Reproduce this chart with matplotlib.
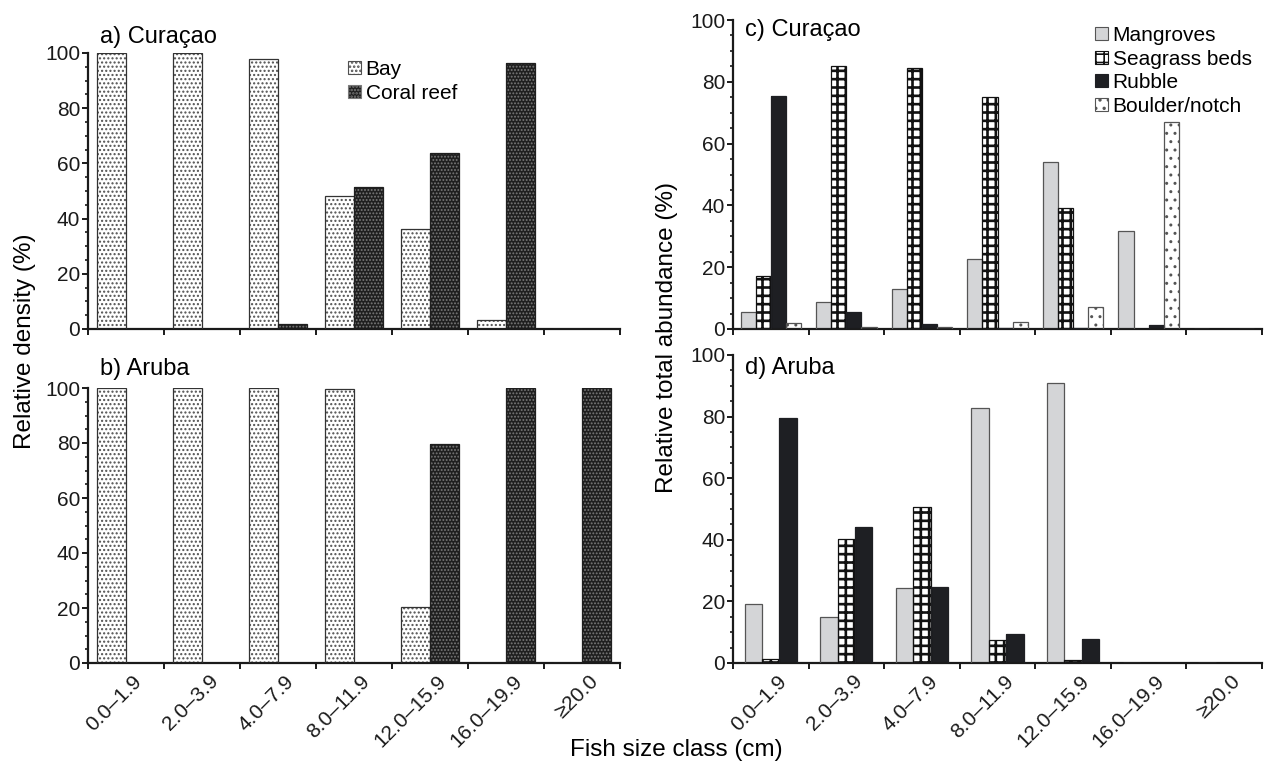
import numpy as np
import matplotlib
matplotlib.use("Agg")
import matplotlib.pyplot as plt
import matplotlib.patches as mpatches
from matplotlib.ticker import MultipleLocator, FixedLocator
from matplotlib.transforms import ScaledTranslation

plt.rcParams["font.family"] = ["Liberation Sans", "DejaVu Sans"]
plt.rcParams["hatch.linewidth"] = 1.2

W, H = 1264, 762

SIZE_CLASSES = ["0.0–1.9", "2.0–3.9", "4.0–7.9", "8.0–11.9",
                "12.0–15.9", "16.0–19.9", "≥20.0"]

# a) / b) relative density (%)
CUR_BAY   = [100, 100, 98, 48.3, 36.3, 3.4, 0]
CUR_CORAL = [0, 0, 1.9, 51.5, 63.6, 96.5, 0]
ARU_BAY   = [100, 100, 100, 99.5, 20.5, 0, 0]
ARU_CORAL = [0, 0, 0, 0, 79.5, 100, 100]

# c) / d) relative total abundance (%)
CUR_MANG = [5.4, 8.6, 13.0, 22.6, 54.0, 31.6, 0]
CUR_SEAG = [17.2, 85.0, 84.5, 75.0, 39.0, 0, 0]
CUR_RUBB = [75.5, 5.4, 1.5, 0.2, 0.3, 1.3, 0]
CUR_BOUL = [1.8, 0.8, 0.8, 2.4, 7.0, 67.0, 0]
ARU_MANG = [19.2, 15.0, 24.4, 82.7, 91.0, 0, 0]
ARU_SEAG = [1.2, 40.2, 50.8, 7.4, 1.0, 0, 0]
ARU_RUBB = [79.5, 44.2, 24.8, 9.5, 7.8, 0, 0]

# face, hatch, hatch colour, outline colour, hatch linewidth
STYLE = {
    "Bay":           ("white",   "....",  "#505050", "#333333", 1.0),
    "Coral reef":    ("#1f1f1f", ".....", "#7a7a7a", "#1f1f1f", 0.9),
    "Mangroves":     ("#d4d5d7", None,    "#555555", "#555555", 1.0),
    "Seagrass beds": ("white",   "++",    "#111111", "#111111", 1.9),
    "Rubble":        ("#1e1f23", None,    "#1e1f23", "#1e1f23", 1.0),
    "Boulder/notch": ("white",   "..",    "#555555", "#555555", 1.0),
}


def fx(px):
    return px / W


def fy(py):
    return 1 - py / H


def draw_bars(ax, x, vals, width, name):
    face, hatch, hcol, edge, hlw = STYLE[name]
    bars = ax.bar(x, vals, width, align="edge", color=face, edgecolor=hcol,
                  linewidth=0, hatch=hatch, zorder=2)
    for p in bars:
        if hasattr(p, "set_hatch_linewidth"):
            p.set_hatch_linewidth(hlw)
    ax.bar(x, vals, width, align="edge", fill=False, edgecolor=edge,
           linewidth=0.9, zorder=3)


def proxy(name):
    face, hatch, hcol, edge, hlw = STYLE[name]
    p = mpatches.Patch(facecolor=face, edgecolor=hcol if hatch else edge,
                       hatch=hatch, linewidth=0.8, label=name)
    if hasattr(p, "set_hatch_linewidth"):
        p.set_hatch_linewidth(hlw)
    return p


def style_axis(ax, show_labels):
    n = len(SIZE_CLASSES)
    ax.set_xlim(0, n)
    ax.set_ylim(0, 100)
    for s in ["top", "right"]:
        ax.spines[s].set_visible(False)
    for s in ["left", "bottom"]:
        ax.spines[s].set_linewidth(1.6)
        ax.spines[s].set_color("#1a1a1a")
    ax.yaxis.set_major_locator(MultipleLocator(20))
    ax.yaxis.set_minor_locator(MultipleLocator(5))
    ax.tick_params(axis="y", which="major", direction="out", length=4.5,
                   width=1.4, labelsize=15, pad=1, colors="#1a1a1a")
    ax.tick_params(axis="y", which="minor", direction="out", length=2.5,
                   width=1.2, colors="#1a1a1a")
    ax.xaxis.set_major_locator(FixedLocator(np.arange(n + 1)))
    ax.xaxis.set_minor_locator(FixedLocator(np.arange(n) + 0.5))
    ax.tick_params(axis="x", which="major", direction="out", length=4,
                   width=1.4, labelbottom=False, colors="#1a1a1a")
    ax.tick_params(axis="x", which="minor", length=0, pad=11,
                   labelsize=15, labelbottom=show_labels, colors="#1a1a1a")
    if show_labels:
        ax.set_xticklabels(SIZE_CLASSES, minor=True, rotation=45,
                           ha="right", va="center", rotation_mode="anchor")
        off = ScaledTranslation(0.13, 0, ax.figure.dpi_scale_trans)
        for lab in ax.get_xticklabels(minor=True):
            lab.set_transform(lab.get_transform() + off)


fig = plt.figure(figsize=(W / 100, H / 100), dpi=100)

ax_a = fig.add_axes([fx(88), fy(329), fx(620 - 88), (329 - 53) / H])
ax_b = fig.add_axes([fx(88), fy(663), fx(620 - 88), (663 - 388) / H])
ax_c = fig.add_axes([fx(733), fy(329), fx(1262 - 733), (329 - 20) / H])
ax_d = fig.add_axes([fx(733), fy(663), fx(1262 - 733), (663 - 355) / H])

x = np.arange(len(SIZE_CLASSES)) + 0.5

# left panels: two habitats
wl = 0.38
for ax, bay, coral in [(ax_a, CUR_BAY, CUR_CORAL), (ax_b, ARU_BAY, ARU_CORAL)]:
    draw_bars(ax, x - wl, bay, wl, "Bay")
    draw_bars(ax, x, coral, wl, "Coral reef")

# c) four habitats
wc = 0.2
for i, (vals, name) in enumerate([(CUR_MANG, "Mangroves"), (CUR_SEAG, "Seagrass beds"),
                                  (CUR_RUBB, "Rubble"), (CUR_BOUL, "Boulder/notch")]):
    draw_bars(ax_c, x - 2 * wc + i * wc, vals, wc, name)

# d) three habitats
wd = 0.23
for i, (vals, name) in enumerate([(ARU_MANG, "Mangroves"), (ARU_SEAG, "Seagrass beds"),
                                  (ARU_RUBB, "Rubble")]):
    draw_bars(ax_d, x - 1.5 * wd + i * wd, vals, wd, name)

style_axis(ax_a, False)
style_axis(ax_b, True)
style_axis(ax_c, False)
style_axis(ax_d, True)

# panel titles
fig.text(fx(100), fy(37), "a) Curaçao", fontsize=17, va="center", ha="left")
fig.text(fx(100), fy(369), "b) Aruba", fontsize=17, va="center", ha="left")
fig.text(fx(745), fy(30), "c) Curaçao", fontsize=17, va="center", ha="left")
fig.text(fx(745), fy(368), "d) Aruba", fontsize=17, va="center", ha="left")

# legends
leg_kw = dict(loc="upper left", bbox_transform=fig.transFigure, frameon=False,
              borderpad=0, borderaxespad=0, handlelength=0.6, handleheight=0.6,
              handletextpad=0.25, labelspacing=0.22, fontsize=15)
ax_a.legend(handles=[proxy("Bay"), proxy("Coral reef")],
            bbox_to_anchor=(fx(348), fy(60)), **leg_kw)
ax_c.legend(handles=[proxy(n) for n in ["Mangroves", "Seagrass beds", "Rubble", "Boulder/notch"]],
            bbox_to_anchor=(fx(1095), fy(26)), **leg_kw)

# shared axis labels
fig.text(fx(25), fy(341), "Relative density (%)", rotation=90, fontsize=17.5,
         va="center", ha="center")
fig.text(fx(667), fy(338), "Relative total abundance (%)", rotation=90,
         fontsize=17.5, va="center", ha="center")
fig.text(fx(676), fy(750), "Fish size class (cm)", fontsize=17.5,
         va="center", ha="center")

fig.savefig("out.png", dpi=100)
